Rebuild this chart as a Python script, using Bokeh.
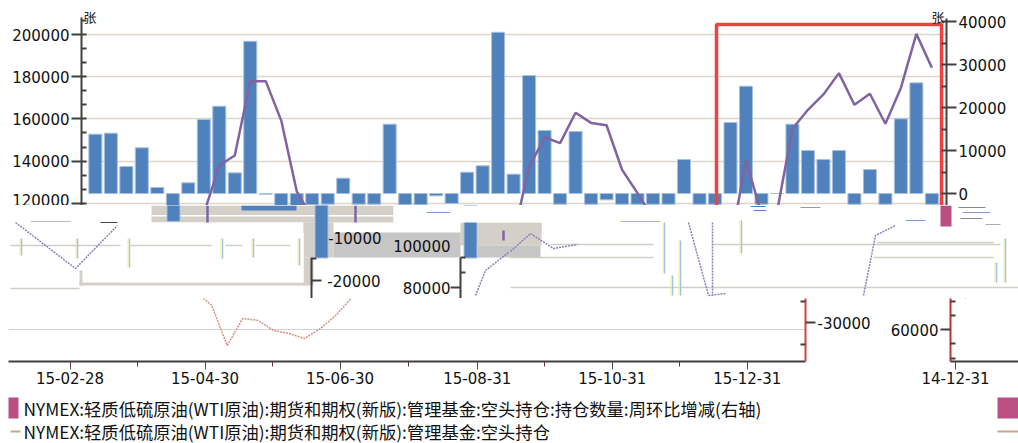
import pandas as pd
from bokeh.embed import file_html
from bokeh.resources import INLINE
from bokeh.plotting import figure
from bokeh.layouts import column, row
from bokeh.models import LinearAxis, Range1d, FixedTicker, Grid, Label
from bokeh.core.properties import value

# ---------- data ----------
WEEK_START = "2015-01-04"
change_right_axis = [13800, 14030, 6280, 10620, 1400, -6500, 2480, 17200, 20300, 4800, 35400,
                     -150, -3400, -3400, -2640, -2480, 3565, -2480, -2480, 16120, -2640, -2640,
                     -540, -2325, 4960, 6430, 37500, 4500, 27430, 14650, -2480, 14400, -2500,
                     -1470, -2500, -2500, -2500, -2500, 7900, -2500, -2500, 16500, 24950, -2500,
                     0, 16120, 10000, 7900, 10000, -2500, 5580, -2500, 17360, 25730, -2500]
short_position = [75000, 78000, 80000, 85000, 88000, 86000, 85000, 115000, 137900, 142650, 177900,
                  177900, 159200, 125700, 113000, 95000, 78000, 71600, 52600, 65400, 64500, 59700,
                  58300, 55900, 60600, 66800, 74900, 105000, 137100, 151300, 148500, 162900,
                  158100, 157000, 135900, 124800, 113000, 95000, 85000, 80000, 82000, 100000,
                  140400, 115000, 115800, 155300, 164300, 171600, 181700, 166700, 171900, 157700,
                  174700, 200300, 184200]
x_tick_labels = ["14-12-31", "15-02-28", "15-04-30", "15-06-30", "15-08-31", "15-10-31", "15-12-31"]
left_ticks = [120000, 140000, 160000, 180000, 200000]
right_ticks = [0, 10000, 20000, 30000, 40000]
legend_labels = ["NYMEX:轻质低硫原油(WTI原油):期货和期权(新版):管理基金:空头持仓:持仓数量:周环比增减(右轴)",
                 "NYMEX:轻质低硫原油(WTI原油):期货和期权(新版):管理基金:空头持仓"]
torn_bar_values = [-6500, -15000, -15000]

# ---------- styling ----------
BLUE, EDGE, PURPLE = "#4f81bd", "#a9c0dd", "#8064a2"
RED, AXIS, GRID = "#f04040", "#404040", "#dcd6cc"
BEIGE, GREY, PINK, TAN = "#d4d0c8", "#c6c6c6", "#bc4f81", "#c4a98f"
NUM_FONT, CJK = "DejaVu Sans", "Noto Sans CJK SC"

dates = pd.date_range(WEEK_START, periods=len(change_right_axis), freq="7D")
tick_dates = [pd.Timestamp("20" + s) for s in x_tick_labels]
T0 = tick_dates[0].value / 1e6
MS_PER_PX = 86400000 / 2.213


def ms_at(px, tick_px):
    return T0 + (px - tick_px) * MS_PER_PX


def left_at(y):
    return 200000 - (y - 34) / 0.00211


def right_at(y):
    return (193 - y) / 0.0043


def style_y(ax, ticks, minor_ticks):
    ax.ticker = FixedTicker(ticks=ticks, minor_ticks=minor_ticks)
    ax.major_label_text_font = NUM_FONT
    ax.major_label_text_font_size = "15px"
    ax.major_label_text_color = "#111111"
    ax.major_label_standoff = 2
    ax.axis_line_color = AXIS
    ax.axis_line_width = 2
    ax.major_tick_line_color = AXIS
    ax.major_tick_line_width = 2
    ax.minor_tick_line_color = AXIS
    ax.minor_tick_line_width = 2
    ax.major_tick_in, ax.major_tick_out = 0, 10
    ax.minor_tick_in, ax.minor_tick_out = 5, 0
    ax.major_label_overrides = {t: str(t) for t in ticks}


def base(**kw):
    p = figure(output_backend="svg", toolbar_location=None, tools="", frame_align=False, **kw)
    p.outline_line_color = None
    p.min_border_left = p.min_border_right = p.min_border_top = p.min_border_bottom = 0
    p.background_fill_color = "white"
    p.border_fill_color = "white"
    return p


# ---------- top band ----------
top = base(width=1018, height=205, x_axis_type="datetime", x_axis_location=None,
           x_range=Range1d(ms_at(81, 86), ms_at(946, 86)),
           y_range=Range1d(left_at(205), left_at(6)))
top.min_border_left, top.min_border_right, top.min_border_top = 81, 72, 6
top.grid.visible = False
top.add_layout(Grid(dimension=1, ticker=FixedTicker(ticks=left_ticks),
                    grid_line_color=GRID, grid_line_width=1.5))
style_y(top.yaxis[0], left_ticks, [120000 + i * 20000 / 3 for i in range(14)])
top.yaxis[0].bounds = (left_at(205), left_at(17))
top.extra_y_ranges["right"] = Range1d(right_at(205), right_at(6))
rax = LinearAxis(y_range_name="right")
style_y(rax, right_ticks, [i * 5000 for i in range(9)])
rax.bounds = (right_at(205), right_at(18))
top.add_layout(rax, "right")
bar_width = 13 * MS_PER_PX
top.vbar(x=dates, top=change_right_axis, bottom=0, width=bar_width, y_range_name="right",
         fill_color=BLUE, line_color=EDGE, line_width=1)
top.line(dates, short_position, line_color=PURPLE, line_width=2.5)
top.line([ms_at(716, 86), ms_at(716, 86), ms_at(941, 86), ms_at(941, 86)],
         [left_at(300), left_at(24), left_at(24), left_at(300)], line_color=RED, line_width=3.5)
for px in (83, 931):
    top.add_layout(Label(x=ms_at(px, 86), y=left_at(16), text="张", text_font=CJK,
                         text_font_size="13px", text_baseline="middle", text_color="#222222"))

# ---------- torn middle band ----------
mid = base(width=1018, height=93, x_range=Range1d(0, 1018), y_range=Range1d(298, 205),
           x_axis_location=None, y_axis_location=None)
mid.grid.visible = False
mid.extra_y_ranges["right"] = Range1d(right_at(298), right_at(205))
for l, r, t, b, c in [(151, 393, 205, 222, BEIGE), (303, 333, 222, 257, BEIGE), (303, 313, 257, 285, BEIGE),
                      (79, 307, 282, 285, BEIGE), (79, 82, 270, 285, BEIGE), (460, 541, 222, 245, BEIGE),
                      (333, 460, 232, 257, GREY), (477, 540, 245, 257, GREY), (510, 541, 222, 231, BEIGE),
                      (119, 303, 222, 282, "white"), (151, 393, 214.5, 216, "white")]:
    mid.quad(left=[l], right=[r], top=[t], bottom=[b], fill_color=c, line_color=None)
mid.vbar(x=[173, 321, 470], top=torn_bar_values, bottom=0, width=13, y_range_name="right",
         fill_color=BLUE, line_color=EDGE)
mid.quad(left=[393], right=[560], top=[205], bottom=[222], fill_color="white", line_color=None)
mid.quad(left=[303, 241], right=[313, 296], top=[222, 205], bottom=[232, 210],
         fill_color=[BEIGE, BLUE], line_color=None)
for xs, y in [((10, 120), 245), ((130, 211), 245), ((225, 242), 245), ((255, 290), 245), ((550, 653), 244),
              ((712, 1000), 244), ((510, 653), 257), ((873, 993), 257),
              ((10, 79), 288), ((510, 1018), 287), ((877, 993), 242)]:
    mid.line(list(xs), [y, y], line_color="#cfcfc8", line_width=1.5)
for x, t, b in [(21, 238, 255), (77, 238, 258), (129, 238, 267), (222, 238, 258), (253, 238, 257), (299, 238, 265),
                (664, 222, 273), (680, 240, 295), (672, 275, 295), (741, 220, 253), (996, 262, 282), (1005, 238, 282)]:
    mid.line([x, x], [t, b], line_color="#9dc3e6", line_width=1.5)
    mid.line([x - 1.5, x - 1.5], [t, b], line_color="#f2ee8a", line_width=1)
for xs, ys in [((15, 75, 117), (222, 268, 225)), ((688, 708), (222, 295)), ((712, 712), (222, 295)),
               ((863, 875, 895), (295, 235, 225)), ((510, 530, 553, 577), (251, 233, 248, 244)),
               ((475, 485, 508), (295, 270, 252)), ((708, 725), (295, 293))]:
    mid.line(list(xs), list(ys), line_color="#8f7fc0", line_width=1.5, line_dash="2 1")
for xs, ys in [((207, 207), (205, 222)), ((355, 355), (205, 222)), ((503, 503), (230, 240))]:
    mid.line(list(xs), list(ys), line_color=PURPLE, line_width=2.5)
mid.quad(left=[940], right=[951], top=[205], bottom=[226], fill_color=PINK, line_color=None)
for x0, x1, y, c in [(958, 985, 207, "#888888"), (962, 990, 212, "#7f9fd0"), (960, 982, 218, "#888888"),
                     (620, 660, 221, "#a8c878"), (30, 70, 221, "#bbbbbb"), (100, 117, 222, "#444444"),
                     (750, 765, 206, BLUE), (753, 766, 210, BLUE), (426, 450, 212, "#7f9fd0"),
                     (800, 820, 207, "#999999"), (905, 925, 220, "#7f9fd0"), (985, 1000, 224, "#aaaaaa")]:
    mid.line([x0, x1], [y, y], line_color=c, line_width=1)
for x, y, s, a in [(380, 280, "-20000", "right"), (381, 237, "-10000", "right"),
                   (450, 245, "100000", "right"), (450, 287, "80000", "right")]:
    mid.text(x=[x], y=[y], text=[s], text_font=value(NUM_FONT), text_font_size="15px", text_align=a,
             text_baseline="middle", text_color="#111111")
for xs, ys in [((311, 311), (257, 298)), ((311, 321), (280, 280)), ((460, 460), (257, 298)),
               ((450, 460), (287, 287)), ((460, 465), (272, 272)), ((460, 465), (257, 257)),
               ((311, 316), (258, 258))]:
    mid.line(list(xs), list(ys), line_color=AXIS, line_width=2)

# ---------- bottom band ----------
tick_ms = [d.value / 1e6 for d in tick_dates]
minor_ms = sorted(tick_ms + [(a + b) / 2 for a, b in zip(tick_ms, tick_ms[1:])])


def style_x(ax):
    ax.ticker = FixedTicker(ticks=tick_ms, minor_ticks=minor_ms)
    ax.major_label_overrides = dict(zip(tick_ms, x_tick_labels))
    ax.major_label_text_font = NUM_FONT
    ax.major_label_text_font_size = "15px"
    ax.major_label_text_color = "#111111"
    ax.major_label_standoff = 2
    ax.axis_line_color = AXIS
    ax.axis_line_width = 2
    ax.major_tick_line_color = "#336666"
    ax.minor_tick_line_color = "#663333"
    ax.major_tick_in, ax.major_tick_out = 0, 8
    ax.minor_tick_in, ax.minor_tick_out = 0, 5


low_a = base(width=885, height=91, x_axis_type="datetime", y_axis_location=None,
             x_range=Range1d(ms_at(8, -61), ms_at(805, -61)),
             y_range=Range1d(left_at(361), left_at(298)))
low_a.min_border_left, low_a.min_border_right, low_a.min_border_bottom = 8, 80, 28
low_a.grid.visible = False
low_a.add_layout(Grid(dimension=1, ticker=FixedTicker(ticks=[60000]), grid_line_color="#ccd5d0", grid_line_width=1))
low_a.line(dates, short_position, line_color="#d98f85", line_width=1.5, line_dash="2 1")
low_a.extra_y_ranges["right"] = Range1d(right_at(361), right_at(298))
ra = LinearAxis(y_range_name="right")
style_y(ra, [-30000], [-35000, -25000])
ra.axis_line_color = "#d84040"
low_a.add_layout(ra, "right")
style_x(low_a.xaxis[0])

low_b = base(width=133, height=91, x_axis_type="datetime",
             x_range=Range1d(ms_at(950, 955), ms_at(1018, 955)),
             y_range=Range1d(left_at(361), left_at(298)))
low_b.min_border_left, low_b.min_border_bottom = 65, 28
low_b.grid.visible = False
low_b.line(dates, short_position, line_color="#d98f85", line_width=1.5, line_dash="2 1")
style_y(low_b.yaxis[0], [60000], [46667, 53333, 66667, 73333])
low_b.yaxis[0].axis_line_color = "#c03030"
style_x(low_b.xaxis[0])

# ---------- legend ----------
leg = base(width=1018, height=54, x_range=Range1d(0, 1018), y_range=Range1d(443, 389),
           x_axis_location=None, y_axis_location=None)
leg.grid.visible = False
leg.quad(left=[8, 997], right=[18, 1018], top=[397, 397], bottom=[418, 418], fill_color=PINK, line_color=None)
leg.quad(left=[10, 997], right=[20, 1018], top=[430, 430], bottom=[432, 432], fill_color=TAN, line_color=None)
leg.text(x=[23, 23], y=[408, 431], text=legend_labels, text_font=value(CJK), text_font_size="17.3px",
         text_baseline="middle", text_color="#111111")

page = column(top, mid, row(low_a, low_b, spacing=0), leg, spacing=0)
open("out.html", "w").write(file_html(page, INLINE))
